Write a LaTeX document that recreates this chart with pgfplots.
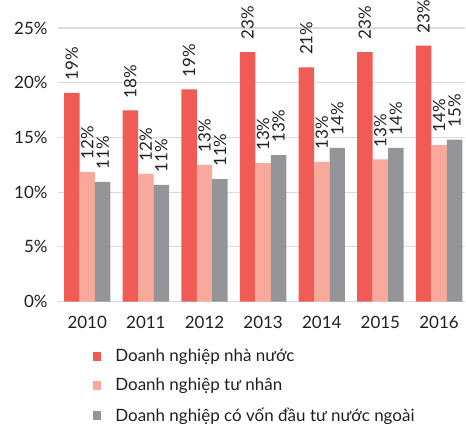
\documentclass[border=0pt]{standalone}
\usepackage{pgfplots}
\usepackage{pgfplotstable}
\pgfplotsset{compat=1.18}
\usepackage{fontspec}
\setmainfont{Lato}

\definecolor{sRed}{HTML}{F15B55}
\definecolor{sPink}{HTML}{F8A99C}
\definecolor{sGray}{HTML}{949599}
\definecolor{txt}{HTML}{231F20}
\definecolor{gridc}{HTML}{DADADA}

% year index, value, rounded label
\pgfplotstableread{
x  nn    nnl  tn    tnl  fdi   fdil
0  19.08 19   11.86 12   10.94 11
1  17.46 18   11.67 12   10.67 11
2  19.38 19   12.50 13   11.19 11
3  22.80 23   12.65 13   13.38 13
4  21.40 21   12.77 13   14.05 14
5  22.80 23   12.99 13   14.05 14
6  23.38 23   14.30 14   14.79 15
}\data

\newcommand{\lbl}{\fontsize{8.5}{9.5}\selectfont}

\begin{document}
\begin{tikzpicture}
\begin{axis}[
    name=ax,
    width=204pt, height=137pt, scale only axis,
    ybar=0pt, bar width=7.75pt,
    xmin=-0.5, xmax=6.45, ymin=0, ymax=25,
    clip=false,
    axis line style={draw=none},
    major tick length=0pt,
    ymajorgrids,
    major grid style={draw=gridc, line width=0.6pt},
    ytick={0,5,...,25},
    yticklabels={0\%,5\%,10\%,15\%,20\%,25\%},
    xtick={0,...,6},
    xticklabels={2010,2011,2012,2013,2014,2015,2016},
    tick label style={font=\lbl, text=txt},
    yticklabel style={inner sep=0pt, xshift=-5pt},
    xticklabel style={inner sep=0pt, yshift=-7.2pt},
    point meta=explicit symbolic,
    nodes near coords={\hspace*{6pt}\pgfplotspointmeta\%},
    every node near coord/.append style={font=\lbl, text=txt, rotate=90,
        anchor=west, inner sep=0pt},
    legend style={at={(0.084,-0.17)}, anchor=north west, draw=none, fill=none,
        inner sep=0pt, row sep=7pt, column sep=7pt, font=\lbl, text=txt,
        nodes={inner sep=0pt}},
    legend cell align=left,
    legend image code/.code={\fill[#1] (0pt,-2.2pt) rectangle (4.4pt,2.2pt);},
]
\addplot[fill=sRed, draw=none] table[x=x, y=nn, meta=nnl] {\data};
\addplot[fill=sPink, draw=none] table[x=x, y=tn, meta=tnl] {\data};
\addplot[fill=sGray, draw=none] table[x=x, y=fdi, meta=fdil] {\data};
\legend{Doanh nghiệp nhà nước, Doanh nghiệp tư nhân, Doanh nghiệp có vốn đầu tư nước ngoài}
\end{axis}
\path ([xshift=-29pt,yshift=-61pt]ax.south west) rectangle ([yshift=12pt]ax.north east);
\end{tikzpicture}
\end{document}
